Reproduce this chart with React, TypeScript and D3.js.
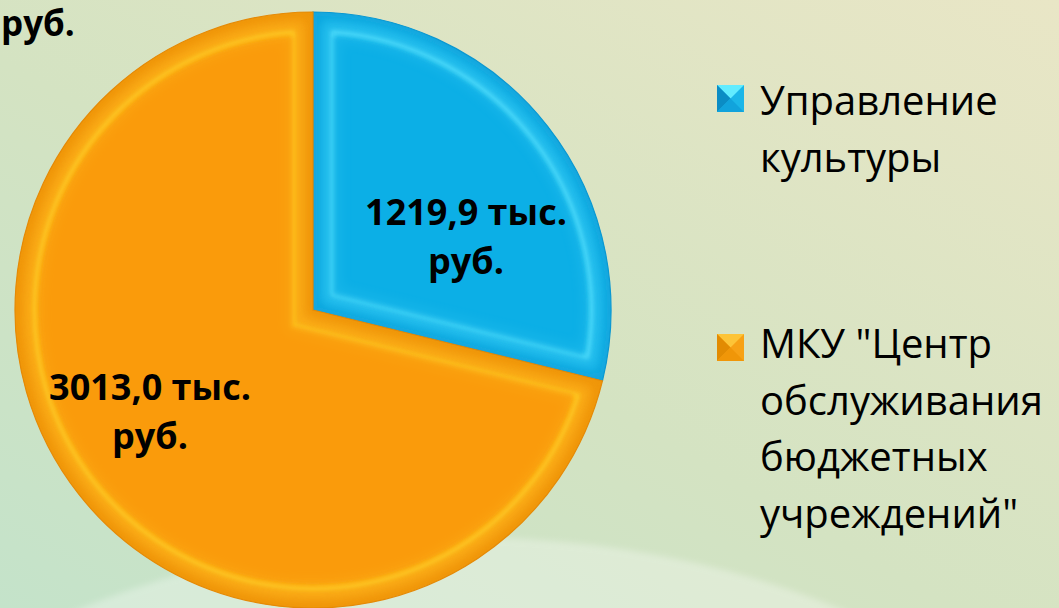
import React from "react";
import * as d3 from "d3";

const categories = ["Управление культуры", "МКУ \"Центр обслуживания бюджетных учреждений\""];
const values = [1219.9, 3013.0];
const valueLabels = ["1219,9 тыс.", "3013,0 тыс."];
const unitLabel = "руб.";
const legendLines = [["Управление", "культуры"], ["МКУ \"Центр", "обслуживания", "бюджетных", "учреждений\""]];

const W = 1059, H = 608;
const CX = 313, CY = 310, R = 298, BEVEL = 20;

const palette = [
  { flat: "#0cafe6", band: "#18b6ea", rim: "#0a98d2", ridge: "#5fe6ff", top: "#62ecff", left: "#0b8cc4", right: "#1bb6e8", bottom: "#11a3dc" },
  { flat: "#fa9c0b", band: "#f9a212", rim: "#e58a06", ridge: "#ffd52a", top: "#fdc437", left: "#e28b02", right: "#f7a115", bottom: "#f09608" },
];
// first-line baseline of each value label, relative to pie centre
const labelOffsets = [[153, -85], [-163, 90]];
const LABEL_LH = 49;

function insetPath(a0: number, a1: number, r: number, d: number) {
  const Rr = r - d;
  const delta = Math.asin(d / Rr);
  const half = (a1 - a0) / 2;
  const mid = (a0 + a1) / 2;
  const ad = d / Math.sin(half);
  const ax = ad * Math.sin(mid), ay = -ad * Math.cos(mid);
  const s = a0 + delta, e = a1 - delta;
  const large = e - s > Math.PI ? 1 : 0;
  return `M${ax},${ay}L${Rr * Math.sin(s)},${-Rr * Math.cos(s)}A${Rr},${Rr} 0 ${large} 1 ${Rr * Math.sin(e)},${-Rr * Math.cos(e)}Z`;
}

export default function App() {
  const pie = d3.pie<number>().sort(null).startAngle(0).endAngle(2 * Math.PI)(values);
  const arc = d3.arc<d3.PieArcDatum<number>>().innerRadius(0).outerRadius(R);
  const font = "'Open Sans', Lato, sans-serif";

  return (
    <svg width={W} height={H} style={{ position: "absolute", left: 0, top: 0 }} xmlns="http://www.w3.org/2000/svg">
      <defs>
        <linearGradient id="bg" x1="0" y1="1" x2="1" y2="0">
          <stop offset="0" stopColor="#c4e3ca" />
          <stop offset="0.45" stopColor="#d4e3c2" />
          <stop offset="1" stopColor="#e9e6c6" />
        </linearGradient>
        <filter id="blur2" x="-10%" y="-10%" width="120%" height="120%">
          <feGaussianBlur stdDeviation="2" />
        </filter>
        <filter id="blur6" x="-10%" y="-10%" width="120%" height="120%">
          <feGaussianBlur stdDeviation="6" />
        </filter>
        <filter id="blur3" x="-20%" y="-20%" width="140%" height="140%">
          <feGaussianBlur stdDeviation="3" />
        </filter>
        {pie.map((p, i) => (
          <clipPath id={`clip${i}`} key={i}>
            <path d={arc(p) || ""} />
          </clipPath>
        ))}
      </defs>
      <rect x={0} y={0} width={W} height={H} fill="url(#bg)" />
      <ellipse cx={460} cy={985} rx={700} ry={448} fill="#ffffff" opacity={0.3} filter="url(#blur3)" />

      <g transform={`translate(${CX},${CY})`}>
        {pie.map((p, i) => {
          const c = palette[i];
          const inner = insetPath(p.startAngle, p.endAngle, R, BEVEL);
          return (
            <g key={i}>
              <path d={arc(p) || ""} fill={c.band} />
              <g clipPath={`url(#clip${i})`}>
                <path d={arc(p) || ""} fill="none" stroke={c.rim} strokeWidth={10} opacity={0.7} filter="url(#blur6)" />
                <path d={inner} fill={c.flat} />
                <path d={inner} fill="none" stroke={c.ridge} strokeWidth={14} opacity={0.3} filter="url(#blur6)" />
                <path d={inner} fill="none" stroke={c.ridge} strokeWidth={4} opacity={0.7} filter="url(#blur2)" />
                <path d={inner} fill={c.flat} opacity={0.55} filter="url(#blur2)" transform="scale(0.985)" />
              </g>
              <path d={arc(p) || ""} fill="none" stroke={c.rim} strokeWidth={1.2} />
            </g>
          );
        })}
        {pie.map((p, i) => (
          <text key={`l${i}`} fontFamily={font} fontWeight={700} fontSize={36} fill="#000" textAnchor="middle">
            <tspan x={labelOffsets[i][0]} y={labelOffsets[i][1]}>{valueLabels[i]}</tspan>
            <tspan x={labelOffsets[i][0]} y={labelOffsets[i][1] + LABEL_LH}>{unitLabel}</tspan>
          </text>
        ))}
      </g>

      <text x={1} y={36} fontFamily={font} fontWeight={700} fontSize={35} textAnchor="start" fill="#000">{unitLabel}</text>

      {categories.map((cat, i) => {
        const c = palette[i];
        const y0 = [85, 334][i];
        const s = 27, x0 = 717;
        const cxm = x0 + s / 2, cym = y0 + s / 2;
        const baseY = [115, 358][i];
        return (
          <g key={cat}>
            <rect x={x0} y={y0} width={s} height={s} fill={c.right} />
            <path d={`M${x0},${y0}L${x0 + s},${y0}L${cxm},${cym}Z`} fill={c.top} />
            <path d={`M${x0},${y0}L${cxm},${cym}L${x0},${y0 + s}Z`} fill={c.left} />
            <path d={`M${x0},${y0 + s}L${cxm},${cym}L${x0 + s},${y0 + s}Z`} fill={c.bottom} />
            <text fontFamily={font} fontSize={40} fill="#000">
              {legendLines[i].map((ln, j) => (
                <tspan key={j} x={760} y={baseY + j * 56.7}>{ln}</tspan>
              ))}
            </text>
          </g>
        );
      })}
    </svg>
  );
}
